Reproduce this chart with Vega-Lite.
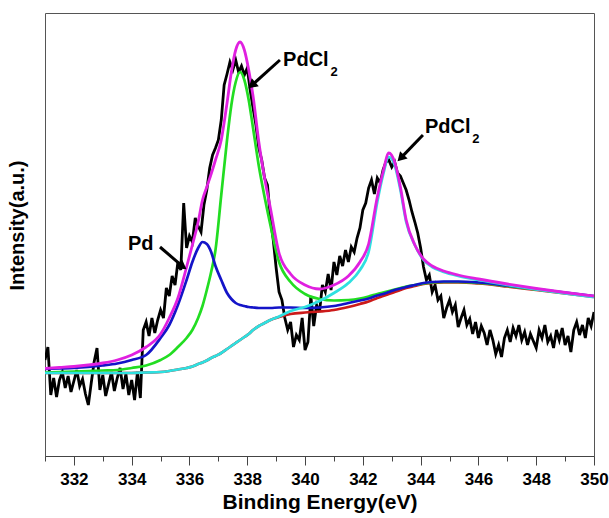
{
  "$schema": "https://vega.github.io/schema/vega-lite/v6.json",
  "width": 549,
  "height": 443,
  "autosize": {"type": "none"},
  "padding": {"left": 45, "top": 13, "right": 15, "bottom": 62},
  "background": "white",
  "config": {
    "view": {"stroke": "#555", "strokeWidth": 1},
    "font": "Liberation Sans"
  },
  "datasets": {
    "raw": [
      {"E":331.0,"I":96},{"E":331.1,"I":109},{"E":331.2,"I":61},{"E":331.3,"I":78},{"E":331.4,"I":59},{"E":331.5,"I":76},{"E":331.6,"I":84},{"E":331.7,"I":68},{"E":331.8,"I":80},{"E":331.9,"I":64},
      {"E":332.0,"I":75},{"E":332.1,"I":86},{"E":332.2,"I":70},{"E":332.3,"I":77},{"E":332.4,"I":62},{"E":332.5,"I":51},{"E":332.6,"I":73},{"E":332.7,"I":94},{"E":332.8,"I":108},{"E":332.9,"I":66},
      {"E":333.0,"I":81},{"E":333.1,"I":60},{"E":333.2,"I":72},{"E":333.3,"I":84},{"E":333.4,"I":65},{"E":333.5,"I":78},{"E":333.6,"I":88},{"E":333.7,"I":67},{"E":333.8,"I":82},{"E":333.9,"I":61},
      {"E":334.0,"I":76},{"E":334.1,"I":56},{"E":334.2,"I":84},{"E":334.3,"I":58},{"E":334.4,"I":126},{"E":334.5,"I":134},{"E":334.6,"I":120},{"E":334.7,"I":138},{"E":334.8,"I":123},{"E":334.9,"I":136},
      {"E":335.0,"I":146},{"E":335.1,"I":138},{"E":335.2,"I":168},{"E":335.3,"I":160},{"E":335.4,"I":180},{"E":335.5,"I":171},{"E":335.6,"I":194},{"E":335.7,"I":186},{"E":335.8,"I":253},{"E":335.9,"I":208},
      {"E":336.0,"I":220},{"E":336.1,"I":214},{"E":336.2,"I":238},{"E":336.3,"I":230},{"E":336.4,"I":224},{"E":336.5,"I":251},{"E":336.6,"I":266},{"E":336.7,"I":288},{"E":336.8,"I":301},{"E":336.9,"I":308},
      {"E":337.0,"I":316},{"E":337.1,"I":336},{"E":337.2,"I":371},{"E":337.3,"I":382},{"E":337.4,"I":394},{"E":337.5,"I":386},{"E":337.6,"I":396},{"E":337.7,"I":384},{"E":337.8,"I":390},{"E":337.9,"I":381},
      {"E":338.0,"I":388},{"E":338.1,"I":366},{"E":338.2,"I":348},{"E":338.3,"I":331},{"E":338.4,"I":308},{"E":338.5,"I":296},{"E":338.6,"I":278},{"E":338.7,"I":271},{"E":338.8,"I":238},{"E":338.9,"I":216},
      {"E":339.0,"I":188},{"E":339.1,"I":164},{"E":339.2,"I":156},{"E":339.3,"I":138},{"E":339.4,"I":126},{"E":339.5,"I":134},{"E":339.6,"I":109},{"E":339.7,"I":121},{"E":339.8,"I":116},{"E":339.9,"I":138},
      {"E":340.0,"I":106},{"E":340.1,"I":114},{"E":340.2,"I":160},{"E":340.3,"I":130},{"E":340.4,"I":151},{"E":340.5,"I":144},{"E":340.6,"I":171},{"E":340.7,"I":164},{"E":340.8,"I":182},{"E":340.9,"I":166},
      {"E":341.0,"I":194},{"E":341.1,"I":181},{"E":341.2,"I":200},{"E":341.3,"I":190},{"E":341.4,"I":206},{"E":341.5,"I":194},{"E":341.6,"I":209},{"E":341.7,"I":204},{"E":341.8,"I":218},{"E":341.9,"I":228},
      {"E":342.0,"I":246},{"E":342.1,"I":253},{"E":342.2,"I":268},{"E":342.3,"I":276},{"E":342.4,"I":262},{"E":342.5,"I":278},{"E":342.6,"I":273},{"E":342.7,"I":286},{"E":342.8,"I":294},{"E":342.9,"I":296},
      {"E":343.0,"I":289},{"E":343.1,"I":294},{"E":343.2,"I":283},{"E":343.3,"I":280},{"E":343.4,"I":273},{"E":343.5,"I":266},{"E":343.6,"I":256},{"E":343.7,"I":244},{"E":343.8,"I":234},{"E":343.9,"I":223},
      {"E":344.0,"I":208},{"E":344.1,"I":189},{"E":344.2,"I":176},{"E":344.3,"I":181},{"E":344.4,"I":164},{"E":344.5,"I":171},{"E":344.6,"I":156},{"E":344.7,"I":160},{"E":344.8,"I":138},{"E":344.9,"I":148},
      {"E":345.0,"I":156},{"E":345.1,"I":144},{"E":345.2,"I":151},{"E":345.3,"I":129},{"E":345.4,"I":138},{"E":345.5,"I":146},{"E":345.6,"I":131},{"E":345.7,"I":137},{"E":345.8,"I":122},{"E":345.9,"I":134},
      {"E":346.0,"I":118},{"E":346.1,"I":130},{"E":346.2,"I":123},{"E":346.3,"I":111},{"E":346.4,"I":126},{"E":346.5,"I":116},{"E":346.6,"I":102},{"E":346.7,"I":111},{"E":346.8,"I":99},{"E":346.9,"I":118},
      {"E":347.0,"I":126},{"E":347.1,"I":114},{"E":347.2,"I":128},{"E":347.3,"I":120},{"E":347.4,"I":131},{"E":347.5,"I":116},{"E":347.6,"I":124},{"E":347.7,"I":111},{"E":347.8,"I":122},{"E":347.9,"I":115},
      {"E":348.0,"I":108},{"E":348.1,"I":126},{"E":348.2,"I":118},{"E":348.3,"I":131},{"E":348.4,"I":114},{"E":348.5,"I":120},{"E":348.6,"I":108},{"E":348.7,"I":126},{"E":348.8,"I":116},{"E":348.9,"I":128},
      {"E":349.0,"I":111},{"E":349.1,"I":120},{"E":349.2,"I":104},{"E":349.3,"I":126},{"E":349.4,"I":134},{"E":349.5,"I":121},{"E":349.6,"I":131},{"E":349.7,"I":118},{"E":349.8,"I":138},{"E":349.9,"I":130},
      {"E":350.0,"I":144}
    ],
    "fit": [
      {"E":331,"bg":83,"g":83.5,"b":87,"c":83,"m":87.5},
      {"E":331.5,"bg":83,"g":84,"b":87.5,"c":83,"m":88.5},
      {"E":332,"bg":83,"g":84.5,"b":88,"c":83,"m":89.5},
      {"E":332.5,"bg":83,"g":85,"b":89,"c":83,"m":91},
      {"E":333,"bg":83,"g":85.5,"b":90.5,"c":83,"m":93},
      {"E":333.5,"bg":83,"g":86,"b":92.5,"c":83,"m":96},
      {"E":334,"bg":83,"g":88,"b":96,"c":83,"m":101},
      {"E":334.5,"bg":83.5,"g":90.5,"b":101,"c":83.5,"m":109},
      {"E":335,"bg":84,"g":96,"b":118,"c":84,"m":122},
      {"E":335.3,"bg":85,"g":101,"b":131,"c":85,"m":138},
      {"E":335.6,"bg":86.5,"g":109,"b":151,"c":86.5,"m":158},
      {"E":335.9,"bg":88,"g":118,"b":176,"c":88,"m":189},
      {"E":336.1,"bg":89.5,"g":126,"b":194,"c":89.5,"m":211},
      {"E":336.3,"bg":92,"g":138,"b":208,"c":92,"m":234},
      {"E":336.45,"bg":93.5,"g":150,"b":214,"c":93.5,"m":256},
      {"E":336.6,"bg":95.5,"g":166,"b":212,"c":95.5,"m":269},
      {"E":336.75,"bg":98,"g":184,"b":204,"c":98,"m":282},
      {"E":336.9,"bg":100,"g":206,"b":190,"c":100,"m":296},
      {"E":337.1,"bg":103,"g":261,"b":176,"c":103,"m":316},
      {"E":337.3,"bg":107,"g":316,"b":163,"c":107,"m":353},
      {"E":337.45,"bg":110,"g":351,"b":157,"c":110,"m":384},
      {"E":337.6,"bg":113,"g":374,"b":153,"c":113,"m":406},
      {"E":337.75,"bg":116,"g":384,"b":151,"c":116,"m":414},
      {"E":337.9,"bg":119,"g":376,"b":150,"c":119,"m":406},
      {"E":338.05,"bg":122,"g":356,"b":149,"c":122,"m":386},
      {"E":338.2,"bg":126,"g":328,"b":148.5,"c":126,"m":360},
      {"E":338.4,"bg":130,"g":290,"b":148,"c":130,"m":314},
      {"E":338.6,"bg":133,"g":259,"b":148,"c":133,"m":278},
      {"E":338.8,"bg":136,"g":231,"b":148,"c":136,"m":248},
      {"E":339.1,"bg":139,"g":194,"b":148.5,"c":139.5,"m":203},
      {"E":339.5,"bg":142,"g":174,"b":148.5,"c":145,"m":182},
      {"E":340,"bg":143.5,"g":162,"b":148,"c":149,"m":171},
      {"E":340.5,"bg":144.5,"g":157,"b":148.5,"c":155,"m":167},
      {"E":341,"bg":146,"g":155.5,"b":150,"c":163,"m":171},
      {"E":341.5,"bg":149,"g":156,"b":153,"c":173,"m":180},
      {"E":341.9,"bg":152,"g":157.5,"b":155.5,"c":186,"m":194},
      {"E":342.2,"bg":154.5,"g":159.5,"b":157.5,"c":204,"m":212},
      {"E":342.5,"bg":158,"g":162,"b":160.5,"c":254,"m":259},
      {"E":342.7,"bg":160,"g":163.5,"b":162,"c":281,"m":284},
      {"E":342.9,"bg":162,"g":165,"b":164,"c":299,"m":303},
      {"E":343.1,"bg":164,"g":166.5,"b":166,"c":291,"m":294},
      {"E":343.3,"bg":166,"g":168,"b":167.5,"c":266,"m":269},
      {"E":343.5,"bg":168,"g":169.5,"b":169,"c":234,"m":236},
      {"E":343.8,"bg":170,"g":171,"b":171,"c":211,"m":211},
      {"E":344.1,"bg":172,"g":172.5,"b":173,"c":196,"m":197},
      {"E":344.4,"bg":173,"g":173.5,"b":174,"c":189,"m":190},
      {"E":344.8,"bg":173.5,"g":174,"b":174.5,"c":184,"m":185},
      {"E":345.3,"bg":173.5,"g":174,"b":174.5,"c":180,"m":181},
      {"E":346,"bg":172.5,"g":173,"b":173.5,"c":176,"m":177},
      {"E":347,"bg":169.5,"g":170,"b":170.5,"c":171,"m":172},
      {"E":348,"bg":166,"g":166.5,"b":167,"c":166.5,"m":167.5},
      {"E":349,"bg":162.5,"g":163,"b":163.5,"c":162.5,"m":163.5},
      {"E":350,"bg":159,"g":159.5,"b":160,"c":159,"m":160}
    ],
    "labels": [
      {"E":339.24,"I":390,"t":"PdCl"},
      {"E":344.15,"I":323,"t":"PdCl"},
      {"E":333.87,"I":206,"t":"Pd"}
    ],
    "subs": [
      {"E":340.88,"I":380,"t":"2"},
      {"E":345.79,"I":313,"t":"2"}
    ],
    "arrows": [
      {"E":339.13,"I":396,"E2":338.16,"I2":370.7,"a":228},
      {"E":334.98,"I":209,"E2":335.77,"I2":189.4,"a":126},
      {"E":344.08,"I":321,"E2":343.31,"I2":297.9,"a":224}
    ]
  },
  "encoding": {
    "x": {
      "field": "E",
      "type": "quantitative",
      "scale": {"domain": [331, 350], "nice": false, "zero": false},
      "axis": {
        "values": [331,332,333,334,335,336,337,338,339,340,341,342,343,344,345,346,347,348,349,350],
        "labelExpr": "datum.value % 2 === 0 ? datum.label : ''",
        "tickSize": {"condition": {"test": "datum.value % 2 === 0", "value": 9}, "value": 5},
        "labelFont": "Liberation Sans",
        "labelFontWeight": "bold",
        "labelFontSize": 17,
        "labelColor": "#000",
        "labelPadding": 6,
        "labelFlush": false,
        "labelOverlap": false,
        "grid": false,
        "domainColor": "#444",
        "tickColor": "#444",
        "titleFont": "Liberation Sans",
        "titleFontSize": 21,
        "titleFontWeight": "bold",
        "titleColor": "#000",
        "titleBaseline": "alphabetic",
        "titleY": 52
      },
      "title": "Binding Energy(eV)"
    }
  },
  "layer": [
    {
      "data": {"name": "raw"},
      "mark": {"type": "line", "color": "#000", "strokeWidth": 2.8, "clip": true},
      "encoding": {
        "y": {
          "field": "I", "type": "quantitative",
          "scale": {"domain": [0, 443], "nice": false, "zero": false},
          "axis": {
            "labels": false, "ticks": false, "domain": false, "grid": false,
            "titleFont": "Liberation Sans", "titleFontSize": 20, "titleFontWeight": "bold", "titleColor": "#000",
            "titleBaseline": "alphabetic", "titleX": -22, "titleY": 212
          },
          "title": "Intensity(a.u.)"
        }
      }
    },
    {
      "data": {"name": "fit"},
      "mark": {"type": "line", "color": "#cc1a1a", "strokeWidth": 2.7, "interpolate": "monotone", "clip": true},
      "encoding": {"y": {"field": "bg", "type": "quantitative", "scale": {"domain": [0, 443], "nice": false, "zero": false}}}
    },
    {
      "data": {"name": "fit"},
      "mark": {"type": "line", "color": "#22dd22", "strokeWidth": 2.7, "interpolate": "monotone", "clip": true},
      "encoding": {"y": {"field": "g", "type": "quantitative", "scale": {"domain": [0, 443], "nice": false, "zero": false}}}
    },
    {
      "data": {"name": "fit"},
      "mark": {"type": "line", "color": "#1414c8", "strokeWidth": 2.7, "interpolate": "monotone", "clip": true},
      "encoding": {"y": {"field": "b", "type": "quantitative", "scale": {"domain": [0, 443], "nice": false, "zero": false}}}
    },
    {
      "data": {"name": "fit"},
      "mark": {"type": "line", "color": "#2ee0e0", "strokeWidth": 2.7, "interpolate": "monotone", "clip": true},
      "encoding": {"y": {"field": "c", "type": "quantitative", "scale": {"domain": [0, 443], "nice": false, "zero": false}}}
    },
    {
      "data": {"name": "fit"},
      "mark": {"type": "line", "color": "#e020e0", "strokeWidth": 2.8, "interpolate": "monotone", "clip": true},
      "encoding": {"y": {"field": "m", "type": "quantitative", "scale": {"domain": [0, 443], "nice": false, "zero": false}}}
    },
    {
      "data": {"name": "arrows"},
      "mark": {"type": "rule", "color": "#000", "strokeWidth": 3},
      "encoding": {
        "y": {"field": "I", "type": "quantitative", "scale": {"domain": [0, 443], "nice": false, "zero": false}},
        "x2": {"field": "E2"},
        "y2": {"field": "I2"}
      }
    },
    {
      "data": {"name": "arrows"},
      "mark": {"type": "point", "shape": "triangle-up", "filled": true, "color": "#000", "opacity": 1, "size": 110},
      "encoding": {
        "x": {"field": "E2", "type": "quantitative"},
        "y": {"field": "I2", "type": "quantitative", "scale": {"domain": [0, 443], "nice": false, "zero": false}},
        "angle": {"field": "a", "type": "quantitative", "scale": null}
      }
    },
    {
      "data": {"name": "labels"},
      "mark": {"type": "text", "align": "left", "baseline": "alphabetic", "font": "Liberation Sans", "fontSize": 20, "fontWeight": "bold", "color": "#000"},
      "encoding": {
        "y": {"field": "I", "type": "quantitative", "scale": {"domain": [0, 443], "nice": false, "zero": false}},
        "text": {"field": "t"}
      }
    },
    {
      "data": {"name": "subs"},
      "mark": {"type": "text", "align": "left", "baseline": "alphabetic", "font": "Liberation Sans", "fontSize": 13, "fontWeight": "bold", "color": "#000"},
      "encoding": {
        "y": {"field": "I", "type": "quantitative", "scale": {"domain": [0, 443], "nice": false, "zero": false}},
        "text": {"field": "t"}
      }
    }
  ]
}
